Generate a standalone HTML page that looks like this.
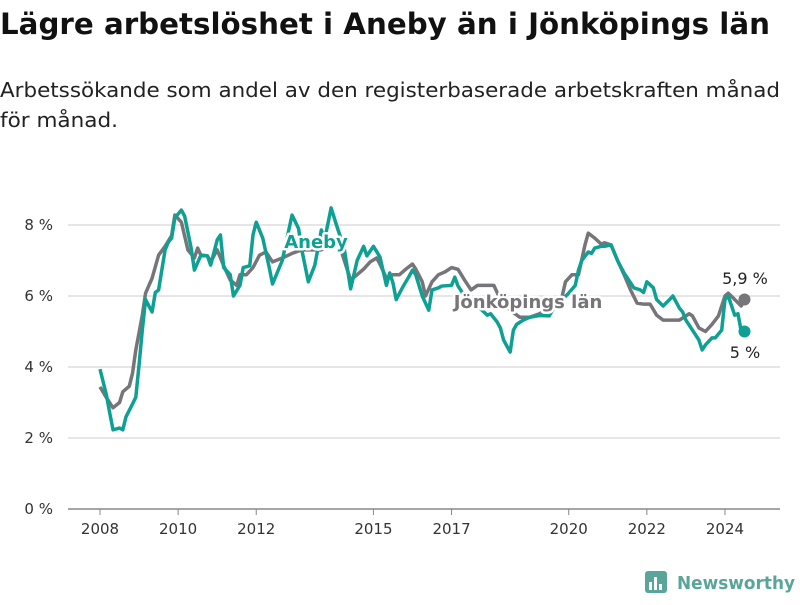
<!DOCTYPE html>
<html><head><meta charset="utf-8">
<style>
body{margin:0;background:#fff;width:800px;height:600px;overflow:hidden;font-family:"Liberation Sans","DejaVu Sans",sans-serif;}
svg text{font-family:"DejaVu Sans","Liberation Sans",sans-serif;}
</style></head>
<body>
<svg id="chart" width="800" height="600" viewBox="0 0 800 600">
<text x="0" y="34" font-size="29" font-weight="bold" fill="#111" textLength="770" lengthAdjust="spacingAndGlyphs">Lägre arbetslöshet i Aneby än i Jönköpings län</text>
<text x="0" y="97" font-size="20.5" fill="#222" textLength="780" lengthAdjust="spacingAndGlyphs">Arbetssökande som andel av den registerbaserade arbetskraften månad</text>
<text x="0" y="127" font-size="20.5" fill="#222" textLength="118" lengthAdjust="spacingAndGlyphs">för månad.</text>
<g id="grid"></g>
<g id="series"></g>
<text x="316" y="248" font-size="18" font-weight="bold" fill="#0fa094" text-anchor="middle" stroke="#fff" stroke-width="5" paint-order="stroke" stroke-linejoin="round">Aneby</text>
<text x="528" y="308" font-size="18" font-weight="bold" fill="#76767a" text-anchor="middle" stroke="#fff" stroke-width="5" paint-order="stroke" stroke-linejoin="round">Jönköpings län</text>
<text x="745" y="284" font-size="16" fill="#222" text-anchor="middle">5,9 %</text>
<text x="745" y="358" font-size="16" fill="#222" text-anchor="middle">5 %</text>
<g>
<rect x="645" y="571" width="22" height="22" rx="3" fill="#5aa59a"/>
<rect x="649" y="582" width="3" height="8" fill="#fff"/><rect x="654" y="577" width="3" height="13" fill="#fff"/><rect x="659" y="584" width="3" height="6" fill="#fff"/>
<text x="677" y="589" font-size="18" font-weight="bold" fill="#5aa59a" textLength="118" lengthAdjust="spacingAndGlyphs">Newsworthy</text>
</g>
</svg>
<script>
const yTicks=[0,2,4,6,8];
const xTickYears=[2008,2010,2012,2015,2017,2020,2022,2024];
const jkpMonths=[0,2,4,6,7,9,10,11,13,14,16,18,20,22,23,25,27,29,30,31,33,34,36,38,40,42,43,45,47,49,51,53,56,59,62,65,68,71,74,77,79,81,83,85,86,88,90,92,94,96,97,99,100,102,104,106,108,110,112,114,116,119,121,123,126,129,132,135,139,142,143,145,147,149,150,152,154,155,157,159,161,163,165,167,169,171,173,175,178,181,182,184,186,188,190,192,193,195,197,198];
const jkpValues=[3.44,3.13,2.85,3.0,3.3,3.46,3.83,4.48,5.46,6.08,6.5,7.15,7.4,7.7,8.28,8.08,7.3,7.07,7.35,7.15,7.13,6.96,7.3,6.85,6.45,6.3,6.6,6.6,6.8,7.15,7.24,6.96,7.07,7.2,7.3,7.3,7.3,7.5,7.3,6.45,6.6,6.76,6.96,7.07,6.9,6.5,6.6,6.6,6.76,6.9,6.76,6.4,6.0,6.4,6.6,6.68,6.8,6.75,6.45,6.17,6.3,6.3,6.3,5.9,5.6,5.4,5.4,5.5,5.7,6.0,6.4,6.6,6.6,7.44,7.77,7.63,7.46,7.5,7.44,7.0,6.6,6.17,5.8,5.77,5.77,5.46,5.32,5.32,5.32,5.5,5.44,5.1,5.0,5.2,5.44,6.0,6.08,5.9,5.72,5.9];
const anebyMonths=[0,2,3,4,6,7,8,10,11,12,13,14,15,16,17,18,20,21,22,23,25,26,28,29,31,33,34,36,37,38,40,41,43,44,46,47,48,50,52,53,56,58,59,61,62,64,66,68,69,71,73,75,77,79,81,82,84,86,88,89,90,91,93,95,96,97,99,101,102,104,105,108,109,110,112,115,119,120,122,123,124,126,127,128,130,132,135,138,139,142,144,146,147,148,150,151,152,154,155,157,159,161,163,164,166,167,168,170,171,173,175,176,178,179,180,182,184,185,186,188,189,191,192,193,195,196,197,198];
const anebyValues=[3.94,3.2,2.7,2.23,2.28,2.23,2.6,2.96,3.15,4.06,5.04,5.9,5.72,5.55,6.1,6.17,7.3,7.52,7.63,8.2,8.42,8.25,7.35,6.73,7.15,7.13,6.87,7.58,7.72,6.8,6.6,6.0,6.3,6.8,6.85,7.72,8.08,7.63,6.8,6.34,7.0,7.86,8.28,7.9,7.3,6.4,6.87,7.86,7.58,8.48,7.9,7.35,6.2,7.0,7.4,7.13,7.4,7.1,6.3,6.65,6.37,5.9,6.25,6.56,6.73,6.6,6.0,5.6,6.17,6.23,6.28,6.3,6.53,6.28,6.0,5.8,5.46,5.5,5.27,5.1,4.76,4.42,5.04,5.2,5.32,5.4,5.45,5.44,5.6,5.9,6.08,6.3,6.73,7.0,7.24,7.2,7.35,7.4,7.4,7.44,7.0,6.65,6.37,6.23,6.17,6.1,6.4,6.23,5.9,5.72,5.9,6.0,5.66,5.55,5.32,5.04,4.76,4.48,4.62,4.82,4.82,5.04,5.9,6.0,5.46,5.5,5.0,5.0];

const NS='http://www.w3.org/2000/svg';
const xOf=m=>100+m*3.255;
const yOf=v=>509-v*35.5;
const grid=document.getElementById('grid');
yTicks.forEach(t=>{
  const l=document.createElementNS(NS,'line');
  
  
  l.setAttribute('x1',68);l.setAttribute('x2',780);
  l.setAttribute('y1',yOf(t));l.setAttribute('y2',yOf(t));
  l.setAttribute('stroke',t===0?'#888':'#ddd');l.setAttribute('stroke-width',1.5);
  grid.appendChild(l);
  const tx=document.createElementNS(NS,'text');
  
  
  tx.setAttribute('x',53);tx.setAttribute('y',yOf(t)+5);
  tx.setAttribute('text-anchor','end');tx.setAttribute('font-size','15');tx.setAttribute('fill','#333');
  tx.textContent=t+' %';grid.appendChild(tx);
});
xTickYears.forEach(yr=>{
  const x=xOf((yr-2008)*12);
  const tk=document.createElementNS(NS,'line');
  
  
  tk.setAttribute('x1',x);tk.setAttribute('x2',x);tk.setAttribute('y1',509);tk.setAttribute('y2',515);
  tk.setAttribute('stroke','#888');grid.appendChild(tk);
  const tx=document.createElementNS(NS,'text');
  
  
  tx.setAttribute('x',x);tx.setAttribute('y',534);
  tx.setAttribute('text-anchor','middle');tx.setAttribute('font-size','15');tx.setAttribute('fill','#333');
  tx.textContent=yr;grid.appendChild(tx);
});
const ser=document.getElementById('series');
function drawLine(ms,vs,color,name){
  const p=document.createElementNS(NS,'polyline');
  
  
  p.setAttribute('points',ms.map((m,i)=>xOf(m)+','+yOf(vs[i])).join(' '));
  p.setAttribute('fill','none');p.setAttribute('stroke',color);p.setAttribute('stroke-width','3.5');
  p.setAttribute('stroke-linejoin','round');
  ser.appendChild(p);
  const c=document.createElementNS(NS,'circle');
  
  
  c.setAttribute('cx',xOf(ms[ms.length-1]));c.setAttribute('cy',yOf(vs[vs.length-1]));
  c.setAttribute('r',6);c.setAttribute('fill',color);
  ser.appendChild(c);
}
drawLine(jkpMonths,jkpValues,'#76767a','jonkoping-line');
drawLine(anebyMonths,anebyValues,'#0fa094','aneby-line');
</script>
</body></html>
